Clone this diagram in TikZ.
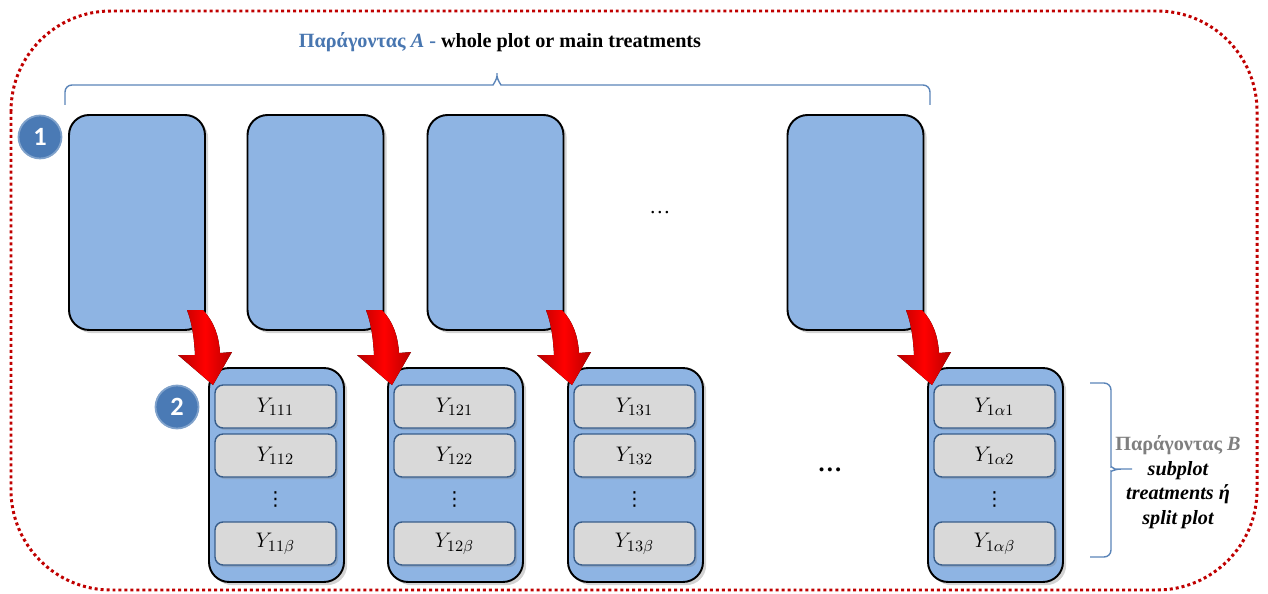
\documentclass[tikz,border=0pt]{standalone}
\usepackage{fontspec}
\setmainfont{Liberation Serif}
\newfontfamily\badgefont{Carlito}
\newfontfamily\dotsfont{DejaVu Sans}
\usetikzlibrary{positioning,shadows,calc}
\definecolor{plotblue}{RGB}{142,180,227}
\definecolor{titleblue}{RGB}{72,118,176}
\definecolor{badgeblue}{RGB}{74,122,181}
\definecolor{cellgray}{RGB}{217,217,217}
\definecolor{cellborder}{RGB}{56,93,138}
\definecolor{framered}{RGB}{192,0,0}
\definecolor{labelgray}{RGB}{127,127,127}

\tikzset{
  wholeplot/.style={draw=black, line width=1.1pt, fill=plotblue, rounded corners=0.4cm,
    minimum width=2.72cm, minimum height=4.3cm, outer sep=0pt,
    drop shadow={shadow xshift=1.8pt, shadow yshift=-1.8pt, opacity=0.35}},
  subplot/.style={wholeplot, minimum width=2.7cm, minimum height=4.28cm},
  cell/.style={draw=cellborder, line width=0.8pt, fill=cellgray, rounded corners=0.16cm,
    minimum width=2.42cm, minimum height=0.86cm, inner sep=0pt, outer sep=0pt,
    font=\fontsize{13}{15}\selectfont,
    drop shadow={shadow xshift=1.2pt, shadow yshift=-1.2pt, opacity=0.3}},
  badge/.style={circle, draw=badgeblue!70!white, line width=1pt, fill=badgeblue,
    minimum size=0.86cm, inner sep=0pt, text=white, font=\badgefont\bfseries\fontsize{15}{15}\selectfont},
  bracket/.style={draw=titleblue!90!white, line width=0.8pt, rounded corners=0.14cm},
  redarrow/.style={left color=red!72!black, right color=red!72!black, middle color=red}
}

\begin{document}
\begin{tikzpicture}[x=0.02cm, y=-0.02cm]
\useasboundingbox (0,0) rectangle (1268,594);

% Frame
\draw[framered, line width=1.7pt, dash pattern=on 1.7pt off 1.7pt, rounded corners=2cm]
  (11,11) rectangle (1257,590);

% Title and brace over the whole plots
\node[font=\bfseries\fontsize{11.5}{13}\selectfont] (title) at (500,42)
  {\textcolor{titleblue}{Παράγοντας \textit{A} -} whole plot or main treatments};
\draw[bracket] (65,105) -- (65,85) -- (486,85) .. controls (493,85) and (497,79) .. (497,69)
  .. controls (497,79) and (501,85) .. (508,85) -- (930,85) -- (930,105);

% Whole plots
\foreach \n/\x in {1/137, 2/315.5, 3/495.5, 4/855.5} {
  \node[wholeplot] (whole\n) at (\x,222.5) {};
}
\node[font=\fontsize{12}{14}\selectfont] (topdots) at (660,213) {…};

% Subplots with their cells
\foreach \n/\x/\a in {1/276.5/11, 2/455.5/12, 3/635.5/13, 4/995.5/1\alpha} {
  \node[subplot] (sub\n) at (\x,475) {};
  \node[cell] (c\n1) at ([shift={(-1,38.5)}]sub\n.north) {$Y_{\a1}$};
  \node[cell, below=0.12cm of c\n1] (c\n2) {$Y_{\a2}$};
  \node[cell, below=0.9cm of c\n2] (c\n3) {$Y_{\a\beta}$};
  \node[inner sep=0pt, font=\dotsfont\fontsize{11}{11}\selectfont] (v\n)
    at ($(c\n2.south)!0.5!(c\n3.north)$) {⋮};
}
\node[font=\bfseries\fontsize{14}{16}\selectfont] (botdots) at (830,470) {…};

% Red arrows from whole plot to subplot
\foreach \n in {1,2,3,4} {
  \begin{scope}[shift={([shift={(4,17)}]sub\n.north west)}]
    \fill[redarrow] (-26,-75) -- (-10,-75) .. controls (2,-62) and (6,-48) .. (7,-32)
      -- (19,-33) -- (0,0) -- (-35,-30) -- (-18,-30)
      .. controls (-19,-48) and (-21,-62) .. (-26,-75) -- cycle;
  \end{scope}
}

% Badges
\node[badge] (b1) at (40,137) {1};
\node[badge] (b2) at (177,407) {2};

% Right brace and label for factor B
\draw[bracket] (1090,383) -- (1111,383) -- (1111,460) .. controls (1111,466) and (1114,469) .. (1122,469)
  -- (1132,469) (1122,469) .. controls (1114,469) and (1111,472) .. (1111,478)
  -- (1111,557) -- (1090,557);
\node[align=center, font=\bfseries\itshape\fontsize{11.5}{14}\selectfont] (factorB) at (1178,482)
  {\textcolor{labelgray}{\upshape Παράγοντας \textit{B}}\\ subplot\\ treatments ή\\ split plot};
\end{tikzpicture}
\end{document}
